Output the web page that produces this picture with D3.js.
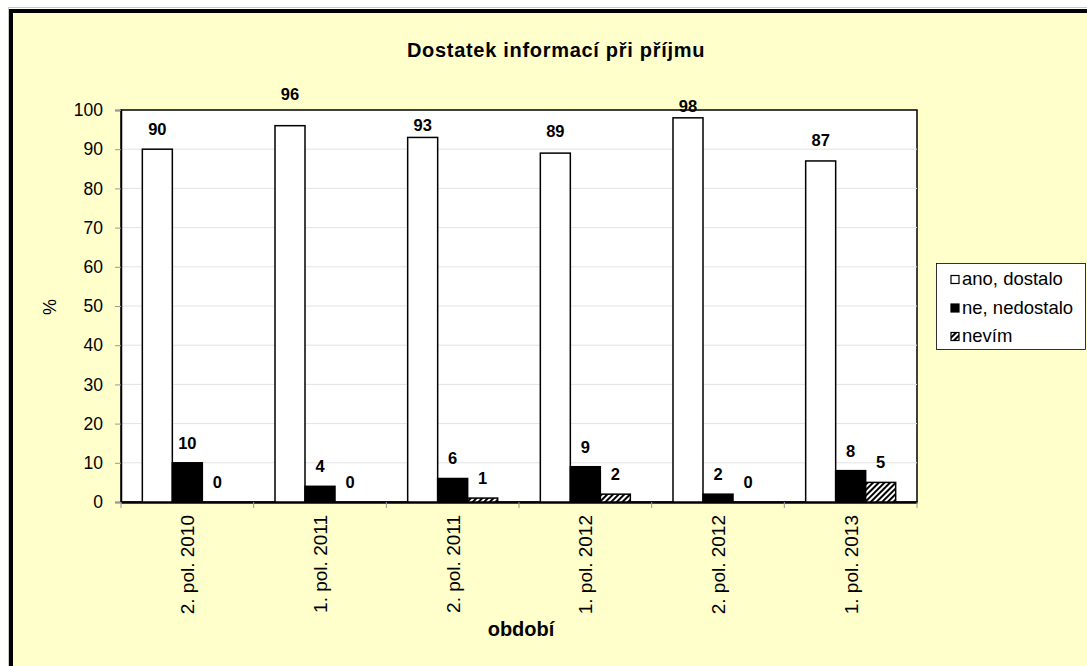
<!DOCTYPE html>
<html>
<head>
<meta charset="utf-8">
<script src="https://cdn.jsdelivr.net/npm/d3@7"></script>
<style>
  body { margin: 0; background: #fff; }
  svg text { font-family: Arial, "Liberation Sans", sans-serif; }
</style>
</head>
<body>
<div id="chart"></div>
<script>
const categories = ["2. pol. 2010", "1. pol. 2011", "2. pol. 2011", "1. pol. 2012", "2. pol. 2012", "1. pol. 2013"];
const seriesNames = ["ano, dostalo", "ne, nedostalo", "nevím"];
const anoValues = [90, 96, 93, 89, 98, 87];
const neValues = [10, 4, 6, 9, 2, 8];
const nevimValues = [0, 0, 1, 2, 0, 5];
const yTicks = [0, 10, 20, 30, 40, 50, 60, 70, 80, 90, 100];

// extra lift of the "ano" labels, as they were nudged in the original
const anoLabelLift = [0, 12, -8, 2, -8, 1];

const width = 1087;
const height = 666;
const plot = { left: 121, top: 110, right: 917, bottom: 502 };

const svg = d3.select("#chart").append("svg")
  .attr("width", width)
  .attr("height", height);

const defs = svg.append("defs");
const hatch = defs.append("pattern")
  .attr("id", "hatch")
  .attr("patternUnits", "userSpaceOnUse")
  .attr("width", 4)
  .attr("height", 4)
  .attr("patternTransform", "rotate(45)");
hatch.append("rect").attr("width", 4).attr("height", 4).attr("fill", "#fff");
hatch.append("rect").attr("width", 2).attr("height", 4).attr("fill", "#000");

// outer frame
svg.append("rect")
  .attr("x", 8.5).attr("y", 7.5)
  .attr("width", 1200).attr("height", 800)
  .attr("fill", "none").attr("stroke", "#c8c8c8").attr("stroke-width", 1);
svg.append("rect")
  .attr("x", 11).attr("y", 11)
  .attr("width", 1200).attr("height", 800)
  .attr("fill", "#ffffcc").attr("stroke", "#000").attr("stroke-width", 4);

const x0 = d3.scaleBand()
  .domain(categories)
  .range([plot.left, plot.right]);

const groupW = 90;
const x1 = d3.scaleBand()
  .domain(seriesNames)
  .range([0, groupW]);

const y = d3.scaleLinear()
  .domain([0, 100])
  .range([plot.bottom, plot.top]);

// plot area
svg.append("rect")
  .attr("x", plot.left).attr("y", plot.top)
  .attr("width", plot.right - plot.left).attr("height", plot.bottom - plot.top)
  .attr("fill", "#fff").attr("stroke", "#000").attr("stroke-width", 1.5);

// gridlines
svg.append("g")
  .selectAll("line")
  .data(yTicks.slice(1, -1))
  .enter()
  .append("line")
  .attr("x1", plot.left).attr("x2", plot.right)
  .attr("y1", (d) => y(d)).attr("y2", (d) => y(d))
  .attr("stroke", "#e3e3e3").attr("stroke-width", 1);

// y axis
const yAxis = svg.append("g")
  .attr("transform", `translate(${plot.left},0)`)
  .call(d3.axisLeft(y).tickValues(yTicks).tickSize(6).tickPadding(12));
yAxis.select(".domain").attr("stroke", "#000").attr("stroke-width", 1.5);
yAxis.selectAll(".tick line").attr("stroke", "#999");
yAxis.selectAll("text").attr("font-size", 17.5).attr("fill", "#000")
  .style("font-family", "Arial, 'Liberation Sans', sans-serif");

// x axis
const xAxis = svg.append("g")
  .attr("transform", `translate(0,${plot.bottom})`)
  .call(d3.axisBottom(x0).tickSize(0).tickFormat(""));
xAxis.select(".domain").attr("stroke", "#000").attr("stroke-width", 2.5);

svg.append("g")
  .selectAll("line")
  .data(d3.range(categories.length + 1))
  .enter()
  .append("line")
  .attr("x1", (i) => plot.left + i * x0.bandwidth())
  .attr("x2", (i) => plot.left + i * x0.bandwidth())
  .attr("y1", plot.bottom).attr("y2", plot.bottom + 6)
  .attr("stroke", "#999");

svg.append("g")
  .selectAll("text")
  .data(categories)
  .enter()
  .append("text")
  .attr("transform", (d) => `translate(${x0(d) + x0.bandwidth() / 2 + 7},${plot.bottom + 13}) rotate(-90)`)
  .attr("text-anchor", "end")
  .attr("font-size", 19)
  .text((d) => d);

// bars
const rows = categories.map((c, i) => ({
  cat: c,
  values: [anoValues[i], neValues[i], nevimValues[i]],
  lift: [anoLabelLift[i], 0, 0],
}));
const fills = ["#fff", "#000", "url(#hatch)"];

const groups = svg.append("g")
  .selectAll("g")
  .data(rows)
  .enter()
  .append("g")
  .attr("transform", (d) => `translate(${x0(d.cat) + (x0.bandwidth() - groupW) / 2},0)`);

groups.selectAll("rect")
  .data((d) => d.values.map((v, j) => ({ v, s: seriesNames[j], j })))
  .enter()
  .append("rect")
  .attr("x", (d) => x1(d.s))
  .attr("y", (d) => y(d.v))
  .attr("width", x1.bandwidth())
  .attr("height", (d) => y(0) - y(d.v))
  .attr("fill", (d) => fills[d.j])
  .attr("stroke", "#000")
  .attr("stroke-width", 1.5);

groups.selectAll("text")
  .data((d) => d.values.map((v, j) => ({ v, s: seriesNames[j], lift: d.lift[j] })))
  .enter()
  .append("text")
  .attr("x", (d) => x1(d.s) + x1.bandwidth() / 2)
  .attr("y", (d) => y(d.v) - 14 - d.lift)
  .attr("text-anchor", "middle")
  .attr("font-size", 16.5)
  .attr("font-weight", "bold")
  .text((d) => d.v);

// title
svg.append("text")
  .attr("x", 556).attr("y", 57)
  .attr("text-anchor", "middle")
  .attr("font-size", 20)
  .attr("font-weight", "bold")
  .attr("letter-spacing", 0.7)
  .text("Dostatek informací při příjmu");

// axis titles
svg.append("text")
  .attr("transform", "translate(56,307) rotate(-90)")
  .attr("text-anchor", "middle")
  .attr("font-size", 18)
  .text("%");

svg.append("text")
  .attr("x", 521).attr("y", 636)
  .attr("text-anchor", "middle")
  .attr("font-size", 20)
  .attr("font-weight", "bold")
  .text("období");

// legend
const legend = svg.append("g");
legend.append("rect")
  .attr("x", 936.5).attr("y", 263.5)
  .attr("width", 149).attr("height", 86)
  .attr("fill", "#fff").attr("stroke", "#000").attr("stroke-width", 0.8);

const items = legend.selectAll("g")
  .data(seriesNames)
  .enter()
  .append("g")
  .attr("transform", (d, i) => `translate(951,${285 + i * 28.5})`);

items.append("rect")
  .attr("x", 0).attr("y", -9.5)
  .attr("width", 8).attr("height", 8)
  .attr("fill", (d, i) => fills[i])
  .attr("stroke", "#000").attr("stroke-width", 1.2);

items.append("text")
  .attr("x", 11).attr("y", 0)
  .attr("font-size", 18.5)
  .text((d) => d);
</script>
</body>
</html>
